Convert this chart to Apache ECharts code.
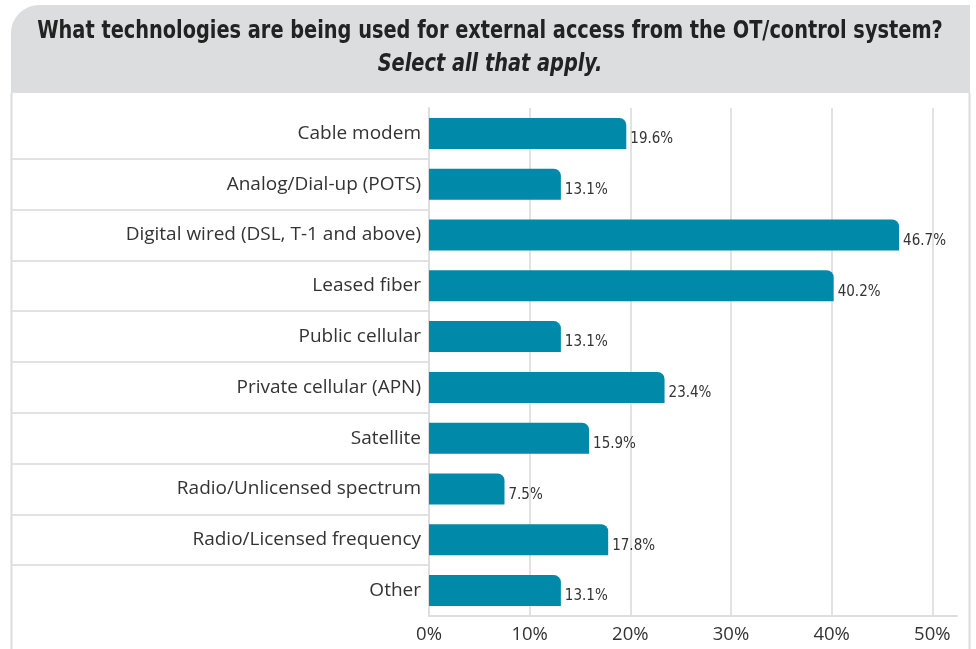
<!DOCTYPE html>
<html>
<head>
<meta charset="utf-8">
<script src="https://cdn.jsdelivr.net/npm/echarts@6/dist/echarts.min.js"></script>
<style>
html,body{margin:0;padding:0;background:#fff;}
#chart{width:976px;height:649px;}
</style>
</head>
<body>
<div id="chart"></div>
<script>
const titleText = 'What technologies are being used for external access from the OT/control system?';
const subtitleText = 'Select all that apply.';
const categories = [
  'Cable modem',
  'Analog/Dial-up (POTS)',
  'Digital wired (DSL, T-1 and above)',
  'Leased fiber',
  'Public cellular',
  'Private cellular (APN)',
  'Satellite',
  'Radio/Unlicensed spectrum',
  'Radio/Licensed frequency',
  'Other'
];
const values = [19.6, 13.1, 46.7, 40.2, 13.1, 23.4, 15.9, 7.5, 17.8, 13.1];
const xTicks = [0, 10, 20, 30, 40, 50];

const chart = echarts.init(document.getElementById('chart'), null, {renderer: 'canvas'});
const gridTop = 108, gridHeight = 508;
const condensed = '"DejaVu Sans Condensed", "DejaVu Sans", sans-serif';
const option = {
  backgroundColor: '#ffffff',
  animation: false,
  graphic: [
    {
      type: 'rect', z: -10, silent: true,
      shape: {x: 11, y: 5, width: 959, height: 88, r: [28, 0, 0, 0]},
      style: {fill: '#dcdddf'}
    },
    {
      type: 'line', z: -10, silent: true,
      shape: {x1: 11.5, y1: 93, x2: 11.5, y2: 649},
      style: {stroke: '#dcdcdc', lineWidth: 2}
    },
    {
      type: 'line', z: -10, silent: true,
      shape: {x1: 969.5, y1: 93, x2: 969.5, y2: 649},
      style: {stroke: '#dcdcdc', lineWidth: 2}
    },
    {
      type: 'text', x: 490, y: 31, scaleX: 0.86, silent: true,
      style: {
        text: titleText, fill: '#222', x: 0, y: 0, align: 'center', verticalAlign: 'middle',
        font: 'bold 25px ' + condensed
      }
    },
    {
      type: 'text', x: 490, y: 64, scaleX: 0.86, silent: true,
      style: {
        text: subtitleText, fill: '#222', x: 0, y: 0, align: 'center', verticalAlign: 'middle',
        font: 'italic bold 25px ' + condensed
      }
    }
  ],
  grid: [
    {left: 429, top: gridTop, width: 528, height: gridHeight, containLabel: false},
    {left: 12, top: gridTop, width: 417, height: gridHeight, containLabel: false}
  ],
  xAxis: [
    {
      type: 'value', gridIndex: 0, min: 0, max: 52.45, interval: 10,
      axisLine: {show: true, lineStyle: {color: '#dedede', width: 2}},
      axisTick: {show: false},
      splitLine: {show: true, showMinLine: false, showMaxLine: false, lineStyle: {color: '#e2e2e2', width: 2}},
      axisLabel: {
        showMaxLabel: false,
        formatter: function (v) { return xTicks.indexOf(v) >= 0 ? v + '%' : ''; },
        color: '#333', fontSize: 18.5, margin: 9,
        fontFamily: '"Open Sans", "Noto Sans", sans-serif'
      }
    },
    {
      type: 'value', gridIndex: 1, min: 0, max: 1, show: false
    }
  ],
  yAxis: [
    {
      type: 'category', gridIndex: 0, data: categories, inverse: true,
      axisLine: {show: true, lineStyle: {color: '#dedede', width: 2}},
      axisTick: {show: false},
      axisLabel: {
        color: '#333', fontSize: 19, margin: 8,
        fontFamily: '"Open Sans", "Noto Sans", sans-serif'
      }
    },
    {
      type: 'category', gridIndex: 1, data: categories, inverse: true,
      axisLine: {show: false}, axisTick: {show: false}, axisLabel: {show: false},
      splitLine: {show: true, showMinLine: false, showMaxLine: false, lineStyle: {color: '#e2e2e2', width: 2}}
    }
  ],
  series: [
    {
      type: 'bar', xAxisIndex: 0, yAxisIndex: 0,
      data: values, barWidth: 31,
      itemStyle: {color: '#0089a9', borderRadius: [0, 7, 0, 0]},
      label: {
        show: true, position: 'right', distance: 4, offset: [0, 6],
        formatter: function (p) { return p.value.toFixed(1) + '%'; },
        color: '#333', fontSize: 15,
        fontFamily: condensed
      }
    }
  ]
};
chart.setOption(option);
</script>
</body>
</html>
